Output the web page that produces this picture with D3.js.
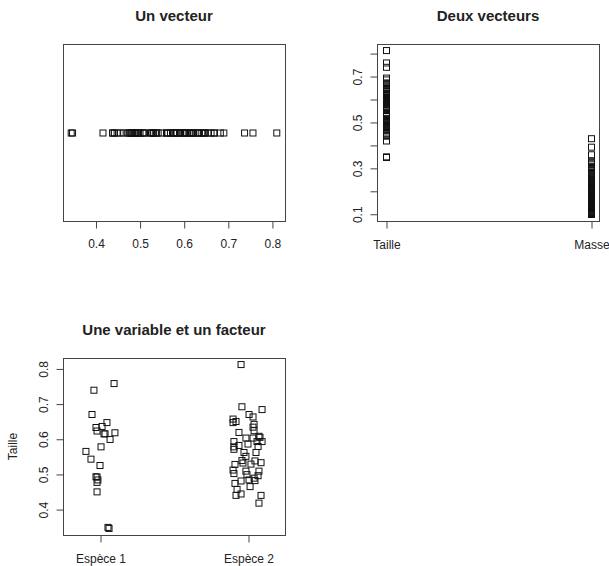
<!DOCTYPE html>
<html>
<head>
<meta charset="utf-8">
<script src="https://cdn.jsdelivr.net/npm/d3@7"></script>
<style>
  body { margin: 0; background: #fff; }
  text { font-family: "Liberation Sans", Arial, sans-serif; fill: #222; }
  .box { fill: none; stroke: #444; stroke-width: 1; }
  .pt { fill: none; stroke: #111; stroke-width: 1; }
  .tick line { stroke: #444; }
</style>
</head>
<body>
<script>
var width = 609;
var height = 566;

// Taille, species 1 and species 2
var espece1 = [0.757, 0.738, 0.669, 0.646, 0.635, 0.632, 0.622, 0.614, 0.614, 0.617, 0.598,
  0.577, 0.564, 0.542, 0.524, 0.492, 0.491, 0.483, 0.476, 0.449, 0.348, 0.345];
var espece2 = [0.811, 0.691, 0.683, 0.669, 0.662, 0.656, 0.649, 0.646, 0.641, 0.633, 0.623,
  0.618, 0.602, 0.602, 0.607, 0.604, 0.592, 0.592, 0.592, 0.585, 0.581, 0.578, 0.577, 0.570,
  0.561, 0.561, 0.550, 0.538, 0.537, 0.532, 0.531, 0.528, 0.527, 0.511, 0.508, 0.508, 0.501,
  0.498, 0.495, 0.488, 0.483, 0.480, 0.481, 0.473, 0.464, 0.456, 0.443, 0.439, 0.439, 0.417];
// horizontal jitter of each point in the third panel, in group units
var jitter1 = [0.095, -0.041, -0.054, 0.047, 0.014, -0.027, -0.020, 0.027, 0.034, 0.101, 0.068,
  0.007, -0.095, -0.061, 0, -0.027, -0.020, -0.014, -0.020, -0.020, 0.054, 0.061];
var jitter2 = [-0.047, -0.041, 0.095, 0.007, 0.034, -0.101, -0.081, -0.101, 0.041, 0.034, 0.041,
  -0.061, -0.014, 0.034, 0.074, 0.081, 0.061, 0.095, -0.095, 0, -0.061, 0.068, -0.095, -0.095,
  -0.027, 0.054, -0.014, -0.041, 0.047, 0.088, -0.034, 0.020, -0.088, -0.101, -0.014, 0.074,
  -0.095, -0.007, 0.068, 0.041, 0.007, -0.047, 0.047, -0.088, 0.014, -0.074, -0.047, -0.081,
  0.088, 0.074];
var taille = espece1.concat(espece2);
var masse = [0.427, 0.390, 0.357, 0.329, 0.324, 0.318, 0.313, 0.305, 0.301, 0.297, 0.291,
  0.287, 0.281, 0.276, 0.272, 0.268, 0.263, 0.259, 0.255, 0.251, 0.247, 0.244, 0.240, 0.236,
  0.233, 0.229, 0.226, 0.222, 0.218, 0.215, 0.212, 0.208, 0.205, 0.201, 0.198, 0.195, 0.191,
  0.188, 0.185, 0.181, 0.178, 0.175, 0.171, 0.167, 0.162, 0.158, 0.154, 0.151, 0.147, 0.144,
  0.141, 0.138, 0.135, 0.132, 0.129, 0.126, 0.123, 0.120, 0.118, 0.116, 0.113, 0.111, 0.109,
  0.107, 0.105, 0.104, 0.102, 0.101, 0.100, 0.099, 0.098, 0.097];

var groups = ['Taille', 'Masse'];
var especes = ['Espèce 1', 'Espèce 2'];
var ticksA = [0.4, 0.5, 0.6, 0.7, 0.8];
var ticksB = [0.1, 0.2, 0.3, 0.4, 0.5, 0.6, 0.7, 0.8];
var labelsB = [0.1, 0.3, 0.5, 0.7];
var ticksC = [0.4, 0.5, 0.6, 0.7, 0.8];

var sq = 6;

function padRange(ext) {
  var d = (ext[1] - ext[0]) * 0.04;
  return [ext[0] - d, ext[1] + d];
}

function square(g, data, fx, fy) {
  g.selectAll('rect.pt').data(data).enter().append('rect')
    .attr('class', 'pt')
    .attr('x', function (d, i) { return fx(d, i) - sq / 2; })
    .attr('y', function (d, i) { return fy(d, i) - sq / 2; })
    .attr('width', sq)
    .attr('height', sq);
}

function title(svg, txt, x, y) {
  svg.append('text')
    .attr('x', x).attr('y', y)
    .attr('text-anchor', 'middle')
    .style('font-size', '15px')
    .style('font-weight', 'bold')
    .text(txt);
}

function box(svg, l, t, r, b) {
  svg.append('rect').attr('class', 'box')
    .attr('x', l + 0.5).attr('y', t + 0.5)
    .attr('width', r - l).attr('height', b - t);
}

var svg = d3.select('body').append('svg')
  .attr('width', width)
  .attr('height', height);

svg.append('rect').attr('width', width).attr('height', height).attr('fill', '#fff');

// ---- panel 1 : Un vecteur
var p1 = { l: 63, t: 44, r: 285, b: 221 };
var x1 = d3.scaleLinear().domain(padRange(d3.extent(taille))).range([p1.l, p1.r]);
title(svg, 'Un vecteur', (p1.l + p1.r) / 2, 21);
var g1 = svg.append('g');
square(g1, taille, function (d) { return x1(d); }, function () { return (p1.t + p1.b) / 2 + 0.5; });
var ax1 = svg.append('g')
  .attr('transform', 'translate(0.5,' + (p1.b + 0.5) + ')')
  .call(d3.axisBottom(x1).tickValues(ticksA).tickSize(7).tickPadding(11).tickFormat(d3.format('.1f')));
ax1.select('.domain').remove();
ax1.selectAll('text').style('font-size', '12px').style('font-family', null).style('fill', '#222');
box(svg, p1.l, p1.t, p1.r, p1.b);

// ---- panel 2 : Deux vecteurs
var p2 = { l: 377, t: 44, r: 599, b: 221 };
var x2 = d3.scalePoint().domain(groups).range([p2.l + 9, p2.r - 8]);
var y2 = d3.scaleLinear().domain(padRange([d3.min(masse), d3.max(taille)])).range([p2.b, p2.t]);
title(svg, 'Deux vecteurs', (p2.l + p2.r) / 2, 21);
var g2 = svg.append('g');
square(g2.append('g'), taille, function () { return x2('Taille') + 0.5; }, function (d) { return y2(d); });
square(g2.append('g'), masse, function () { return x2('Masse') + 0.5; }, function (d) { return y2(d); });
var ax2 = svg.append('g')
  .attr('transform', 'translate(0.5,' + (p2.b + 0.5) + ')')
  .call(d3.axisBottom(x2).tickSize(7).tickPadding(12));
ax2.select('.domain').remove();
ax2.selectAll('text').style('font-size', '12px').style('font-family', null).style('fill', '#222');
var ay2 = svg.append('g')
  .attr('transform', 'translate(' + (p2.l + 0.5) + ',0.5)')
  .call(d3.axisLeft(y2).tickValues(ticksB).tickSize(7)
    .tickFormat(function (d) { return labelsB.indexOf(d) >= 0 ? d3.format('.1f')(d) : ''; }));
ay2.select('.domain').remove();
ay2.selectAll('text')
  .attr('x', null).attr('dy', null)
  .attr('text-anchor', 'middle')
  .attr('transform', 'translate(-16,0) rotate(-90)')
  .style('font-size', '12px').style('font-family', null).style('fill', '#222');
box(svg, p2.l, p2.t, p2.r, p2.b);

// ---- panel 3 : Une variable et un facteur
var p3 = { l: 63, t: 358, r: 285, b: 535 };
var x3 = d3.scaleLinear().domain([0.75, 2.25]).range([p3.l, p3.r]);
var y3 = d3.scaleLinear().domain(padRange(d3.extent(taille))).range([p3.b, p3.t]);
title(svg, 'Une variable et un facteur', (p3.l + p3.r) / 2, 335);
var g3 = svg.append('g');
square(g3.append('g'), espece1, function (d, i) { return x3(1 + jitter1[i]); }, function (d) { return y3(d); });
square(g3.append('g'), espece2, function (d, i) { return x3(2 + jitter2[i]); }, function (d) { return y3(d); });
var ax3 = svg.append('g')
  .attr('transform', 'translate(0.5,' + (p3.b + 0.5) + ')')
  .call(d3.axisBottom(x3).tickValues([1, 2]).tickSize(7).tickPadding(12)
    .tickFormat(function (d) { return especes[d - 1]; }));
ax3.select('.domain').remove();
ax3.selectAll('text').style('font-size', '12px').style('font-family', null).style('fill', '#222');
var ay3 = svg.append('g')
  .attr('transform', 'translate(' + (p3.l + 0.5) + ',0.5)')
  .call(d3.axisLeft(y3).tickValues(ticksC).tickSize(7).tickFormat(d3.format('.1f')));
ay3.select('.domain').remove();
ay3.selectAll('text')
  .attr('x', null).attr('dy', null)
  .attr('text-anchor', 'middle')
  .attr('transform', 'translate(-16,0) rotate(-90)')
  .style('font-size', '12px').style('font-family', null).style('fill', '#222');
svg.append('text')
  .attr('transform', 'translate(17,' + ((p3.t + p3.b) / 2) + ') rotate(-90)')
  .attr('text-anchor', 'middle')
  .style('font-size', '12px')
  .text('Taille');
box(svg, p3.l, p3.t, p3.r, p3.b);
</script>
</body>
</html>
